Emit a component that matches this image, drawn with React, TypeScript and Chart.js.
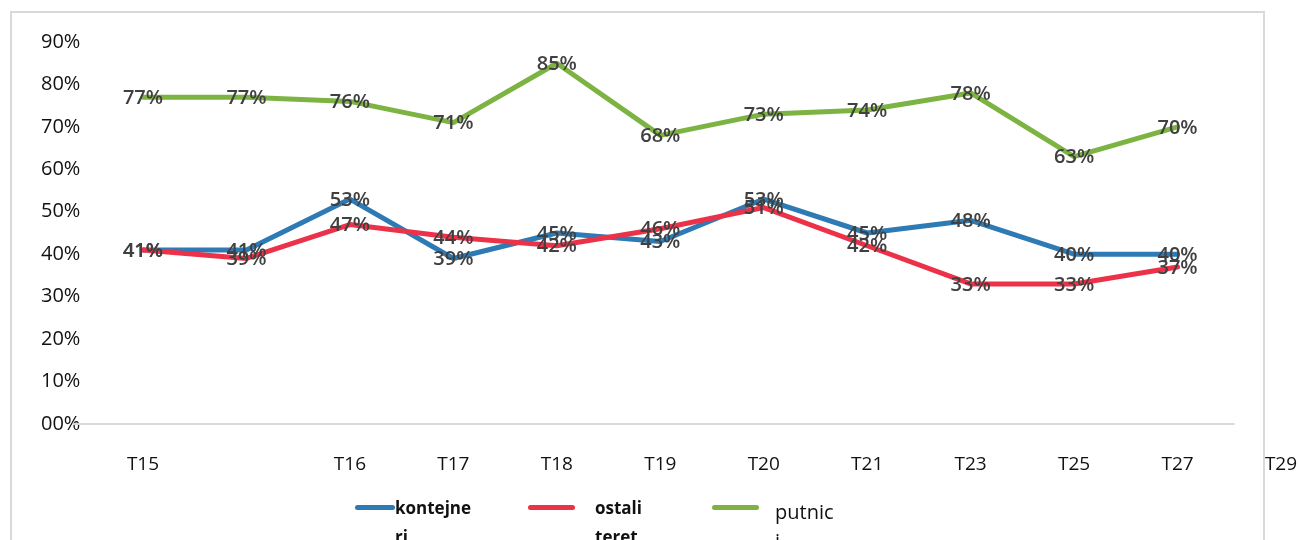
import React, { useEffect, useRef } from "react";
import { Chart, registerables } from "chart.js";

Chart.register(...registerables);

// categories on the x axis (second one has no label in the source)
const categories = ["T15", "", "T16", "T17", "T18", "T19", "T20", "T21", "T23", "T25", "T27", "T29"];

// shares in percent
const kontejneri = [41, 41, 53, 39, 45, 43, 53, 45, 48, 40, 40];
const ostaliTeret = [41, 39, 47, 44, 42, 46, 51, 42, 33, 33, 37];
const putnici = [77, 77, 76, 71, 85, 68, 73, 74, 78, 63, 70];

const yTickLabels = ["00%", "10%", "20%", "30%", "40%", "50%", "60%", "70%", "80%", "90%"];

const seriesNames = ["kontejneri", "ostali teret", "putnici"];
const seriesColors = ["#2e7ab5", "#ec3249", "#7db342"];

const FONT = "'Open Sans', 'Noto Sans', sans-serif";

// value labels centred on every point, drawn above all lines
const valueLabels = {
  id: "valueLabels",
  afterDatasetsDraw(chart: any) {
    const ctx = chart.ctx;
    ctx.save();
    ctx.font = `600 20px ${FONT}`;
    ctx.fillStyle = "#404040";
    ctx.textAlign = "center";
    ctx.textBaseline = "middle";
    chart.data.datasets.forEach((ds: any, i: number) => {
      const meta = chart.getDatasetMeta(i);
      meta.data.forEach((pt: any, j: number) => {
        const v = ds.data[j];
        if (v == null) return;
        ctx.fillText(`${v}%`, pt.x, pt.y + 1);
      });
    });
    ctx.restore();
  },
};

// the single horizontal line at 0 %
const baseLine = {
  id: "baseLine",
  beforeDatasetsDraw(chart: any) {
    const { ctx, chartArea, scales } = chart;
    const y = scales.y.getPixelForValue(0);
    const x0 = chartArea.left - 70;
    const x1 = scales.x.getPixelForValue(10) + 57;
    ctx.save();
    ctx.strokeStyle = "#d9d9d9";
    ctx.lineWidth = 2;
    ctx.beginPath();
    ctx.moveTo(x0, y);
    ctx.lineTo(x1, y);
    ctx.stroke();
    ctx.restore();
  },
};

const LineChart: React.FC = () => {
  const canvasRef = useRef<HTMLCanvasElement>(null);

  useEffect(() => {
    if (!canvasRef.current) return;
    const series = [kontejneri, ostaliTeret, putnici];
    const chart = new Chart(canvasRef.current, {
      type: "line",
      data: {
        labels: categories,
        datasets: series.map((d, i) => ({
          label: seriesNames[i],
          data: d,
          borderColor: seriesColors[i],
          backgroundColor: seriesColors[i],
          borderWidth: 5,
          pointRadius: 0,
          tension: 0,
          borderCapStyle: "round" as const,
          borderJoinStyle: "round" as const,
          order: series.length - i,
        })),
      },
      options: {
        animation: false,
        responsive: true,
        maintainAspectRatio: false,
        layout: { padding: { left: 41, right: 17, top: 42, bottom: 56 } },
        plugins: {
          legend: { display: false },
          tooltip: { enabled: false },
        },
        scales: {
          x: {
            type: "category",
            offset: false,
            grid: { display: false, drawTicks: false, tickLength: 0 },
            border: { display: false },
            ticks: {
              autoSkip: false,
              maxRotation: 0,
              padding: 0,
              color: "#111",
              font: { family: FONT, size: 19, lineHeight: "82px" },
            },
            afterFit: (s: any) => {
              s.height = 60;
            },
          },
          y: {
            min: 0,
            max: 90,
            grid: { display: false, drawTicks: false, tickLength: 0 },
            border: { display: false },
            ticks: {
              stepSize: 10,
              padding: 0,
              crossAlign: "far",
              color: "#111",
              font: { family: FONT, size: 20 },
              callback: (_v: any, i: number) => yTickLabels[i],
            },
            afterFit: (s: any) => {
              s.width = 102;
            },
          },
        },
      },
      plugins: [baseLine, valueLabels],
    });
    return () => chart.destroy();
  }, []);

  return <canvas ref={canvasRef} />;
};

const legendItems = [
  { lineLeft: 355, lineWidth: 40, textLeft: 395, bold: true, size: 17, textWidth: 78 },
  { lineLeft: 528, lineWidth: 47, textLeft: 595, bold: true, size: 17, textWidth: 56 },
  { lineLeft: 712, lineWidth: 47, textLeft: 775, bold: false, size: 20, textWidth: 60 },
];

export default function App() {
  return (
    <div
      style={{
        position: "fixed",
        left: 0,
        top: 0,
        width: 1298,
        height: 540,
        overflow: "hidden",
        background: "#fff",
        fontFamily: FONT,
      }}
    >
      <div
        style={{
          position: "absolute",
          left: 10,
          top: 11,
          width: 1255,
          height: 600,
          border: "2px solid #d9d9d9",
          boxSizing: "border-box",
        }}
      />
      <div style={{ position: "absolute", left: 0, top: 0, width: 1298, height: 540 }}>
        <LineChart />
      </div>
      {legendItems.map((it, i) => (
        <React.Fragment key={i}>
          <div
            style={{
              position: "absolute",
              left: it.lineLeft,
              top: 505,
              width: it.lineWidth,
              height: 5,
              borderRadius: 3,
              background: seriesColors[i],
            }}
          />
          <div
            style={{
              position: "absolute",
              left: it.textLeft,
              top: it.bold ? 493 : 497,
              width: it.textWidth,
              fontSize: it.size,
              fontWeight: it.bold ? 700 : 400,
              lineHeight: "29px",
              color: "#111",
              wordBreak: "break-all",
            }}
          >
            {seriesNames[i]}
          </div>
        </React.Fragment>
      ))}
    </div>
  );
}
